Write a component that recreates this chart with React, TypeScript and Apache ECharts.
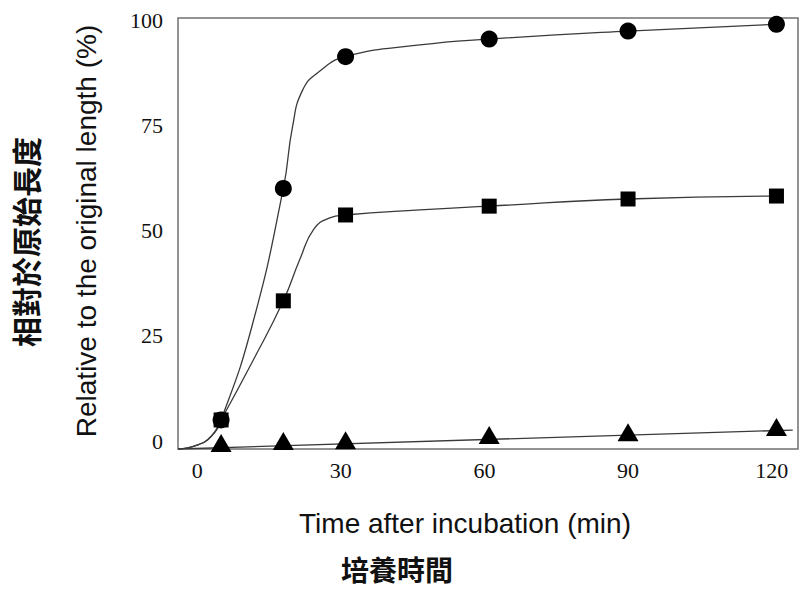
import React, { useEffect, useRef } from "react";
import * as echarts from "echarts";

// Measured points (time in min, % of original length)
const times = [5, 18, 31, 61, 90, 121];
const circleValues = [5, 60, 91.3, 95.5, 97.4, 99];
const squareValues = [5, 33.3, 53.7, 55.8, 57.5, 58.2];
const triangleValues = [-0.5, 0, 0.2, 1.4, 2.1, 3.3];

// Fitted curves, knots
const circleCurveT = [-4, 0, 3, 5, 11.5, 18, 19.9, 22, 25.5, 31, 46.5, 61, 90, 121];
const circleCurveV = [-1.9, -1, 1.2, 5, 27.5, 60, 74.5, 83.3, 87.8, 91.3, 94.1, 95.5, 97.4, 99];
const squareCurveT = [-4, 0, 3, 5, 11.7, 18, 21.5, 24.4, 27.7, 31, 46.5, 61, 90, 121];
const squareCurveV = [-1.9, -1, 1.2, 5, 19.2, 33.3, 43.3, 50.4, 53.0, 53.7, 54.9, 55.8, 57.5, 58.2];
const triangleCurveT = [-4, 124.4];
const triangleCurveV = [-1.9, 2.6];

const xTicks = [0, 30, 60, 90, 120];
const yTicks = [0, 25, 50, 75, 100];

const xTitle = "Time after incubation (min)";
const yTitle = "Relative to the original length (%)";
const yTitleZh = "相對於原始長度";
const xTitleZh = "培養時間";

const zip = (a: number[], b: number[]) => a.map((v, i) => [v, b[i]]);

export default function App() {
  const ref = useRef<HTMLDivElement>(null);
  useEffect(() => {
    if (!ref.current) return;
    const chart = echarts.init(ref.current, undefined, { renderer: "svg" });
    const lineStyle = { color: "#3a3a3a", width: 1.3 };
    const curve = (t: number[], v: number[]) => ({
      type: "line",
      data: zip(t, v),
      smooth: 0.5,
      showSymbol: false,
      symbol: "none",
      lineStyle,
      silent: true,
      z: 2,
    });
    const marks = (v: number[], symbol: string, size: any) => ({
      type: "scatter",
      data: zip(times, v),
      symbol,
      symbolSize: size,
      itemStyle: { color: "#000", opacity: 1 },
      z: 3,
    });
    const titleStyle = { fontFamily: "Liberation Sans", fontSize: 28, fill: "#111", align: "center", verticalAlign: "middle" };
    const zhStyle = { fontFamily: "Noto Sans CJK TC", fontWeight: "bold", fill: "#111", align: "center", verticalAlign: "middle" };
    chart.setOption({
      animation: false,
      backgroundColor: "#fff",
      grid: {
        left: 178,
        top: 18,
        right: 2,
        bottom: 141,
        show: true,
        borderColor: "#707070",
        borderWidth: 1.5,
      },
      xAxis: {
        type: "value",
        min: -4,
        max: 125.5,
        axisLine: { show: false },
        axisTick: { show: false },
        splitLine: { show: false },
        axisLabel: {
          customValues: xTicks,
          fontFamily: "Liberation Serif",
          fontSize: 22,
          color: "#111",
          margin: 10,
        },
      },
      yAxis: {
        type: "value",
        min: -1.9,
        max: 100.5,
        axisLine: { show: false },
        axisTick: { show: false },
        splitLine: { show: false },
        axisLabel: {
          customValues: yTicks,
          fontFamily: "Liberation Serif",
          fontSize: 22,
          color: "#111",
          margin: 15,
        },
      },
      graphic: [
        { type: "text", x: 465, y: 523, style: { ...titleStyle, text: xTitle } },
        { type: "text", x: 86, y: 231, rotation: Math.PI / 2, style: { ...titleStyle, text: yTitle } },
        { type: "text", x: 25, y: 242, rotation: Math.PI / 2, style: { ...zhStyle, fontSize: 30, text: yTitleZh } },
        { type: "text", x: 397, y: 569, style: { ...zhStyle, fontSize: 28, text: xTitleZh } },
      ],
      series: [
        curve(circleCurveT, circleCurveV),
        curve(squareCurveT, squareCurveV),
        { ...curve(triangleCurveT, triangleCurveV), smooth: false },
        marks(circleValues, "circle", 17),
        marks(squareValues, "rect", 15),
        marks(triangleValues, "triangle", [21, 18]),
      ],
    });
    return () => chart.dispose();
  }, []);
  return (
    <div
      ref={ref}
      style={{ position: "fixed", left: 0, top: 0, width: 800, height: 590 }}
    />
  );
}
